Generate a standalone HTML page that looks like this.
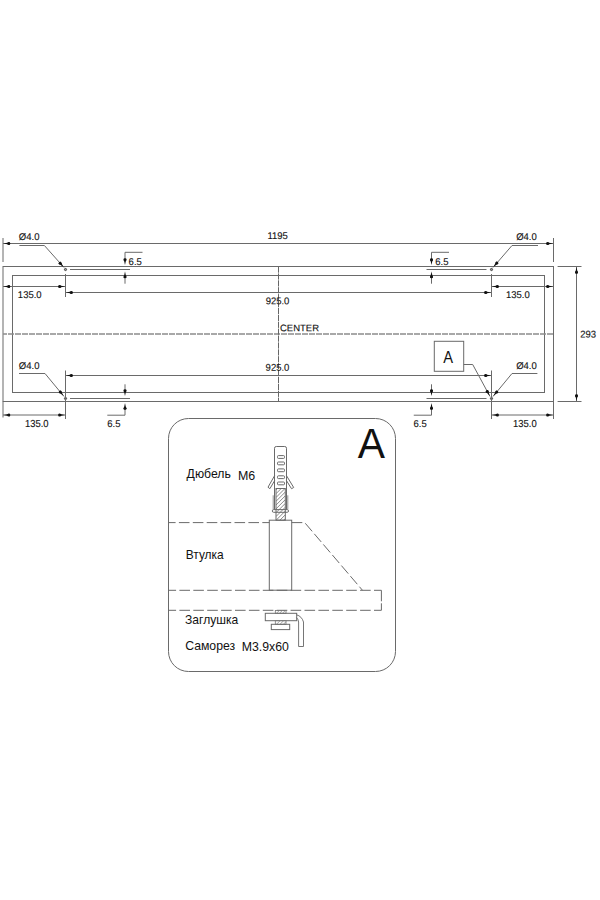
<!DOCTYPE html>
<html><head><meta charset="utf-8"><style>
html,body{margin:0;padding:0;background:#fff;}
body{width:600px;height:900px;overflow:hidden;}
svg{display:block;font-family:"Liberation Sans",sans-serif;}
</style></head><body>
<svg width="600" height="900" viewBox="0 0 600 900">
<rect x="3" y="266.5" width="550.5" height="135.0" rx="0" stroke="#6a6a6a" stroke-width="1" fill="none"/>
<rect x="12.5" y="275.5" width="532.0" height="117.0" rx="0" stroke="#6a6a6a" stroke-width="1" fill="none"/>
<line x1="3" y1="334" x2="553.5" y2="334" stroke="#8c8c8c" stroke-width="1.3" stroke-dasharray="6 1" stroke-dashoffset="2"/>
<line x1="278.5" y1="266.5" x2="278.5" y2="401.5" stroke="#666" stroke-width="1" stroke-dasharray="6.2 0.7" />
<line x1="70" y1="269.5" x2="130" y2="269.5" stroke="#6a6a6a" stroke-width="1" />
<line x1="426.5" y1="269.5" x2="486.5" y2="269.5" stroke="#6a6a6a" stroke-width="1" />
<circle cx="65.5" cy="269.5" r="1.1" stroke="#333" stroke-width="0.9" fill="#999"/>
<circle cx="491.5" cy="269.5" r="1.1" stroke="#333" stroke-width="0.9" fill="#999"/>
<line x1="70" y1="398.5" x2="130" y2="398.5" stroke="#6a6a6a" stroke-width="1" />
<line x1="426.5" y1="398.5" x2="486.5" y2="398.5" stroke="#6a6a6a" stroke-width="1" />
<circle cx="65.5" cy="398.5" r="1.1" stroke="#333" stroke-width="0.9" fill="#999"/>
<circle cx="491.5" cy="398.5" r="1.1" stroke="#333" stroke-width="0.9" fill="#999"/>
<line x1="3" y1="238" x2="3" y2="262" stroke="#6a6a6a" stroke-width="1" />
<line x1="553.5" y1="238" x2="553.5" y2="262" stroke="#6a6a6a" stroke-width="1" />
<line x1="3" y1="243.5" x2="553.5" y2="243.5" stroke="#6a6a6a" stroke-width="1" />
<polygon points="3.50,243.50 9.80,242.15 9.80,244.85" fill="#111"/>
<circle cx="8.80" cy="243.50" r="1.5" fill="#111"/>
<polygon points="553.00,243.50 546.70,244.85 546.70,242.15" fill="#111"/>
<circle cx="547.70" cy="243.50" r="1.5" fill="#111"/>
<line x1="65.5" y1="274" x2="65.5" y2="297" stroke="#6a6a6a" stroke-width="1" />
<line x1="491.5" y1="274" x2="491.5" y2="297" stroke="#6a6a6a" stroke-width="1" />
<line x1="3" y1="286.5" x2="65.5" y2="286.5" stroke="#6a6a6a" stroke-width="1" />
<polygon points="3.50,286.50 9.80,285.15 9.80,287.85" fill="#111"/>
<circle cx="8.80" cy="286.50" r="1.5" fill="#111"/>
<polygon points="65.00,286.50 58.70,287.85 58.70,285.15" fill="#111"/>
<circle cx="59.70" cy="286.50" r="1.5" fill="#111"/>
<line x1="491.5" y1="286.5" x2="553.5" y2="286.5" stroke="#6a6a6a" stroke-width="1" />
<polygon points="492.00,286.50 498.30,285.15 498.30,287.85" fill="#111"/>
<circle cx="497.30" cy="286.50" r="1.5" fill="#111"/>
<polygon points="553.00,286.50 546.70,287.85 546.70,285.15" fill="#111"/>
<circle cx="547.70" cy="286.50" r="1.5" fill="#111"/>
<line x1="65.5" y1="292.5" x2="491.5" y2="292.5" stroke="#6a6a6a" stroke-width="1" />
<polygon points="66.00,292.50 72.30,291.15 72.30,293.85" fill="#111"/>
<circle cx="71.30" cy="292.50" r="1.5" fill="#111"/>
<polygon points="491.00,292.50 484.70,293.85 484.70,291.15" fill="#111"/>
<circle cx="485.70" cy="292.50" r="1.5" fill="#111"/>
<line x1="19.4" y1="245.5" x2="44.4" y2="245.5" stroke="#6a6a6a" stroke-width="1" />
<line x1="44.4" y1="245.5" x2="64.0" y2="267.5" stroke="#6a6a6a" stroke-width="1" />
<polygon points="63.67,267.13 58.47,263.32 60.48,261.52" fill="#111"/>
<circle cx="60.14" cy="263.17" r="1.5" fill="#111"/>
<line x1="512" y1="245.5" x2="538" y2="245.5" stroke="#6a6a6a" stroke-width="1" />
<line x1="512" y1="245.5" x2="493.0" y2="267.5" stroke="#6a6a6a" stroke-width="1" />
<polygon points="493.33,267.12 496.42,261.47 498.47,263.24" fill="#111"/>
<circle cx="496.79" cy="263.11" r="1.5" fill="#111"/>
<polyline points="142.5,252.3 125,252.3 125,260" stroke="#6a6a6a" stroke-width="1" fill="none"/>
<line x1="125" y1="276" x2="125" y2="283.7" stroke="#6a6a6a" stroke-width="1" />
<polygon points="125.00,265.00 123.65,258.70 126.35,258.70" fill="#111"/>
<circle cx="125.00" cy="259.70" r="1.5" fill="#111"/>
<polygon points="125.00,271.50 126.35,277.80 123.65,277.80" fill="#111"/>
<circle cx="125.00" cy="276.80" r="1.5" fill="#111"/>
<polyline points="449.0,252.3 431.5,252.3 431.5,260" stroke="#6a6a6a" stroke-width="1" fill="none"/>
<line x1="431.5" y1="276" x2="431.5" y2="283.7" stroke="#6a6a6a" stroke-width="1" />
<polygon points="431.50,265.00 430.15,258.70 432.85,258.70" fill="#111"/>
<circle cx="431.50" cy="259.70" r="1.5" fill="#111"/>
<polygon points="431.50,271.50 432.85,277.80 430.15,277.80" fill="#111"/>
<circle cx="431.50" cy="276.80" r="1.5" fill="#111"/>
<line x1="65.5" y1="370.5" x2="65.5" y2="419" stroke="#6a6a6a" stroke-width="1" />
<line x1="491.5" y1="370.5" x2="491.5" y2="419" stroke="#6a6a6a" stroke-width="1" />
<line x1="65.5" y1="375.5" x2="491.5" y2="375.5" stroke="#6a6a6a" stroke-width="1" />
<polygon points="66.00,375.50 72.30,374.15 72.30,376.85" fill="#111"/>
<circle cx="71.30" cy="375.50" r="1.5" fill="#111"/>
<polygon points="491.00,375.50 484.70,376.85 484.70,374.15" fill="#111"/>
<circle cx="485.70" cy="375.50" r="1.5" fill="#111"/>
<line x1="19" y1="373.5" x2="45" y2="373.5" stroke="#6a6a6a" stroke-width="1" />
<line x1="45" y1="373.5" x2="64.0" y2="396.5" stroke="#6a6a6a" stroke-width="1" />
<polygon points="63.68,396.11 58.63,392.12 60.71,390.40" fill="#111"/>
<circle cx="60.31" cy="392.03" r="1.5" fill="#111"/>
<line x1="512" y1="373.5" x2="537.4" y2="373.5" stroke="#6a6a6a" stroke-width="1" />
<line x1="512" y1="373.5" x2="493.0" y2="396.5" stroke="#6a6a6a" stroke-width="1" />
<polygon points="493.32,396.11 496.29,390.40 498.37,392.12" fill="#111"/>
<circle cx="496.69" cy="392.03" r="1.5" fill="#111"/>
<rect x="434.3" y="341.3" width="29.4" height="30" rx="0" stroke="#6a6a6a" stroke-width="1" fill="none"/>
<polyline points="463.7,364.5 472.7,364.5 490.0,396.5" stroke="#6a6a6a" stroke-width="1" fill="none"/>
<polygon points="489.76,396.06 485.58,391.16 487.95,389.88" fill="#111"/>
<circle cx="487.24" cy="391.40" r="1.5" fill="#111"/>
<line x1="3" y1="401.5" x2="3" y2="417.5" stroke="#6a6a6a" stroke-width="1" />
<line x1="553.5" y1="401.5" x2="553.5" y2="419" stroke="#6a6a6a" stroke-width="1" />
<line x1="3" y1="415" x2="65.5" y2="415" stroke="#6a6a6a" stroke-width="1" />
<polygon points="3.50,415.00 9.80,413.65 9.80,416.35" fill="#111"/>
<circle cx="8.80" cy="415.00" r="1.5" fill="#111"/>
<polygon points="65.00,415.00 58.70,416.35 58.70,413.65" fill="#111"/>
<circle cx="59.70" cy="415.00" r="1.5" fill="#111"/>
<line x1="491.5" y1="415" x2="553.5" y2="415" stroke="#6a6a6a" stroke-width="1" />
<polygon points="492.00,415.00 498.30,413.65 498.30,416.35" fill="#111"/>
<circle cx="497.30" cy="415.00" r="1.5" fill="#111"/>
<polygon points="553.00,415.00 546.70,416.35 546.70,413.65" fill="#111"/>
<circle cx="547.70" cy="415.00" r="1.5" fill="#111"/>
<polyline points="107.3,415.2 125,415.2 125,407" stroke="#6a6a6a" stroke-width="1" fill="none"/>
<line x1="125" y1="384.3" x2="125" y2="392" stroke="#6a6a6a" stroke-width="1" />
<polygon points="125.00,396.00 123.65,389.70 126.35,389.70" fill="#111"/>
<circle cx="125.00" cy="390.70" r="1.5" fill="#111"/>
<polygon points="125.00,403.00 126.35,409.30 123.65,409.30" fill="#111"/>
<circle cx="125.00" cy="408.30" r="1.5" fill="#111"/>
<polyline points="413.75,415.2 431.5,415.2 431.5,407" stroke="#6a6a6a" stroke-width="1" fill="none"/>
<line x1="431.5" y1="384.3" x2="431.5" y2="392" stroke="#6a6a6a" stroke-width="1" />
<polygon points="431.50,396.00 430.15,389.70 432.85,389.70" fill="#111"/>
<circle cx="431.50" cy="390.70" r="1.5" fill="#111"/>
<polygon points="431.50,403.00 432.85,409.30 430.15,409.30" fill="#111"/>
<circle cx="431.50" cy="408.30" r="1.5" fill="#111"/>
<line x1="557.6" y1="266.5" x2="581.5" y2="266.5" stroke="#6a6a6a" stroke-width="1" />
<line x1="557.6" y1="401.5" x2="581.5" y2="401.5" stroke="#6a6a6a" stroke-width="1" />
<line x1="576.5" y1="266.5" x2="576.5" y2="401.5" stroke="#6a6a6a" stroke-width="1" />
<polygon points="576.50,267.00 577.85,273.30 575.15,273.30" fill="#111"/>
<circle cx="576.50" cy="272.30" r="1.5" fill="#111"/>
<polygon points="576.50,401.00 575.15,394.70 577.85,394.70" fill="#111"/>
<circle cx="576.50" cy="395.70" r="1.5" fill="#111"/>
<rect x="168.5" y="418.5" width="227" height="253" rx="20" stroke="#6a6a6a" stroke-width="1" fill="none"/>
<path d="M274.5,509.5 L274.5,448.3 Q274.5,446.5 276.3,446.5 L284.7,446.5 Q286.5,446.5 286.5,448.3 L286.5,509.5" stroke="#6a6a6a" fill="none" stroke-width="1"/>
<rect x="277.5" y="455.6" width="7" height="2.8" rx="0.9" stroke="#6a6a6a" stroke-width="1" fill="none"/>
<rect x="277.5" y="462.0" width="7" height="2.8" rx="0.9" stroke="#6a6a6a" stroke-width="1" fill="none"/>
<rect x="277.5" y="468.90000000000003" width="7" height="2.8" rx="0.9" stroke="#6a6a6a" stroke-width="1" fill="none"/>
<rect x="277.5" y="475.8" width="7" height="2.8" rx="0.9" stroke="#6a6a6a" stroke-width="1" fill="none"/>
<rect x="277.5" y="482.0" width="7" height="2.8" rx="0.9" stroke="#6a6a6a" stroke-width="1" fill="none"/>
<polyline points="274.7,475.5 268,487.2 269.9,488.7 274.7,480.5" stroke="#6a6a6a" stroke-width="1" fill="none"/>
<polyline points="286.4,475.5 293.7,487.5 291.5,488.7 286.4,480.5" stroke="#6a6a6a" stroke-width="1" fill="none"/>
<line x1="273.2" y1="495.3" x2="273.2" y2="509.3" stroke="#888" stroke-width="0.9" />
<line x1="287.8" y1="495.3" x2="287.8" y2="509.3" stroke="#888" stroke-width="0.9" />
<defs><clipPath id="hc"><rect x="276" y="488.5" width="9.3" height="31.7"/></clipPath><clipPath id="hc2"><rect x="275.3" y="610.5" width="10.7" height="14"/></clipPath></defs>
<rect x="276" y="488.5" width="9.3" height="31.7" rx="0" stroke="#6a6a6a" stroke-width="1" fill="none"/>
<path d="M276,482.30 L285.3,473.00 M276,486.10 L285.3,476.80 M276,489.90 L285.3,480.60 M276,493.70 L285.3,484.40 M276,497.50 L285.3,488.20 M276,501.30 L285.3,492.00 M276,505.10 L285.3,495.80 M276,508.90 L285.3,499.60 M276,512.70 L285.3,503.40 M276,516.50 L285.3,507.20 M276,520.30 L285.3,511.00 M276,524.10 L285.3,514.80 M276,527.90 L285.3,518.60 M276,531.70 L285.3,522.40 M276,535.50 L285.3,526.20 M276,539.30 L285.3,530.00 M276,543.10 L285.3,533.80 M276,546.90 L285.3,537.60 M276,550.70 L285.3,541.40 M276,554.50 L285.3,545.20" stroke="#6a6a6a" stroke-width="0.8" clip-path="url(#hc)"/>
<rect x="272.3" y="509.6" width="16.2" height="2.7" rx="1.3" stroke="#6a6a6a" stroke-width="1" fill="none"/>
<rect x="269.3" y="520.2" width="22.4" height="70" rx="0" stroke="#6a6a6a" stroke-width="1" fill="none"/>
<line x1="168.5" y1="522.6" x2="269.3" y2="522.6" stroke="#6a6a6a" stroke-width="1" stroke-dasharray="10.6 3.3" stroke-dashoffset="3.5"/>
<polyline points="291.7,522.6 304.7,522.6 362.5,590.3" stroke="#6a6a6a" stroke-width="1" fill="none" stroke-dasharray="10.6 3.3"/>
<line x1="168.5" y1="590.3" x2="381.4" y2="590.3" stroke="#6a6a6a" stroke-width="1" stroke-dasharray="10.6 3.3" stroke-dashoffset="3"/>
<line x1="168.5" y1="610.3" x2="381.4" y2="610.3" stroke="#6a6a6a" stroke-width="1" stroke-dasharray="10.6 3.3" stroke-dashoffset="3"/>
<line x1="381.4" y1="590.3" x2="381.4" y2="610.3" stroke="#6a6a6a" stroke-width="1" stroke-dasharray="11 2" />
<rect x="275.3" y="610.5" width="10.7" height="2.8" rx="0" stroke="#777" stroke-width="0.8" fill="none"/>
<rect x="265.3" y="613.3" width="31.4" height="7.4" rx="0" stroke="#6a6a6a" stroke-width="1" fill="none"/>
<rect x="275.3" y="620.7" width="10.7" height="3.6" rx="0" stroke="#777" stroke-width="0.8" fill="none"/>
<rect x="271.3" y="624.3" width="18.4" height="5.3" rx="0" stroke="#6a6a6a" stroke-width="1" fill="none"/>
<path d="M276.5,613.3 L279.3,610.5 M279.5,613.3 L282.3,610.5 M282.5,613.3 L285.3,610.5 M276.5,624.3 L280.1,620.7 M280,624.3 L283.6,620.7 M283.4,624.3 L286,621.7" stroke="#888" stroke-width="0.8"/>
<path d="M296.5,614.8 Q301.8,616.2 303.5,622 L303.5,646.5 L298.6,646.5 L298.6,622 Q298.2,619 296.5,617.6" stroke="#666" fill="none" stroke-width="0.9"/>
<text font-size="10" fill="#111" stroke="#111" stroke-width="0.12" vector-effect="non-scaling-stroke" transform="matrix(0.9500 0.0005 -0.0005 0.9500 279.968 331.266)">CENTER</text>
<text font-size="10" fill="#111" stroke="#111" stroke-width="0.12" vector-effect="non-scaling-stroke" transform="matrix(0.9500 0.0005 -0.0005 0.9800 267.470 239.000)">1195</text>
<text font-size="10" fill="#111" stroke="#111" stroke-width="0.12" vector-effect="non-scaling-stroke" transform="matrix(0.9500 0.0005 -0.0005 0.9800 17.859 298.000)">135.0</text>
<text font-size="10" fill="#111" stroke="#111" stroke-width="0.12" vector-effect="non-scaling-stroke" transform="matrix(0.9500 0.0005 -0.0005 0.9800 506.002 298.000)">135.0</text>
<text font-size="10" fill="#111" stroke="#111" stroke-width="0.12" vector-effect="non-scaling-stroke" transform="matrix(0.9500 0.0005 -0.0005 0.9800 265.625 304.192)">925.0</text>
<text font-size="10" fill="#111" stroke="#111" stroke-width="0.12" vector-effect="non-scaling-stroke" transform="matrix(0.9500 0.0005 -0.0005 0.9800 18.835 240.000)">Ø4.0</text>
<text font-size="10" fill="#111" stroke="#111" stroke-width="0.12" vector-effect="non-scaling-stroke" transform="matrix(0.9500 0.0005 -0.0005 0.9800 516.210 240.000)">Ø4.0</text>
<text font-size="10" fill="#111" stroke="#111" stroke-width="0.12" vector-effect="non-scaling-stroke" transform="matrix(0.9500 0.0005 -0.0005 0.9800 128.622 265.000)">6.5</text>
<text font-size="10" fill="#111" stroke="#111" stroke-width="0.12" vector-effect="non-scaling-stroke" transform="matrix(0.9500 0.0005 -0.0005 0.9800 435.220 265.000)">6.5</text>
<text font-size="10" fill="#111" stroke="#111" stroke-width="0.12" vector-effect="non-scaling-stroke" transform="matrix(0.9500 0.0005 -0.0005 0.9800 265.621 370.812)">925.0</text>
<text font-size="10" fill="#111" stroke="#111" stroke-width="0.12" vector-effect="non-scaling-stroke" transform="matrix(0.9500 0.0005 -0.0005 0.9800 18.835 369.000)">Ø4.0</text>
<text font-size="10" fill="#111" stroke="#111" stroke-width="0.12" vector-effect="non-scaling-stroke" transform="matrix(0.9500 0.0005 -0.0005 0.9800 516.210 369.000)">Ø4.0</text>
<text font-size="10" fill="#111" stroke="#111" stroke-width="0" vector-effect="non-scaling-stroke" transform="matrix(1.4683 0.0005 -0.0005 1.6266 443.144 362.613)">A</text>
<text font-size="10" fill="#111" stroke="#111" stroke-width="0.12" vector-effect="non-scaling-stroke" transform="matrix(0.9417 0.0005 -0.0005 1.0172 24.921 427.000)">135.0</text>
<text font-size="10" fill="#111" stroke="#111" stroke-width="0.12" vector-effect="non-scaling-stroke" transform="matrix(0.9459 0.0005 -0.0005 1.0172 513.030 427.000)">135.0</text>
<text font-size="10" fill="#111" stroke="#111" stroke-width="0.12" vector-effect="non-scaling-stroke" transform="matrix(0.9500 0.0005 -0.0005 0.9800 107.217 427.000)">6.5</text>
<text font-size="10" fill="#111" stroke="#111" stroke-width="0.12" vector-effect="non-scaling-stroke" transform="matrix(0.9500 0.0005 -0.0005 0.9800 413.528 427.000)">6.5</text>
<text font-size="10" fill="#111" stroke="#111" stroke-width="0.12" vector-effect="non-scaling-stroke" transform="matrix(0.9500 0.0005 -0.0005 0.9800 580.278 337.564)">293</text>
<text font-size="10" fill="#111" stroke="#111" stroke-width="0" vector-effect="non-scaling-stroke" transform="matrix(4.0869 0.0005 -0.0005 4.2457 357.833 458.275)">A</text>
<text font-size="10" fill="#111" stroke="#111" stroke-width="0" vector-effect="non-scaling-stroke" transform="matrix(1.2254 0.0005 -0.0005 1.2150 186.594 478.400)">Дюбель</text>
<text font-size="10" fill="#111" stroke="#111" stroke-width="0" vector-effect="non-scaling-stroke" transform="matrix(1.2442 0.0005 -0.0005 1.2150 237.887 479.800)">M6</text>
<text font-size="10" fill="#111" stroke="#111" stroke-width="0" vector-effect="non-scaling-stroke" transform="matrix(1.1947 0.0005 -0.0005 1.2155 185.719 559.369)">Втулка</text>
<text font-size="10" fill="#111" stroke="#111" stroke-width="0" vector-effect="non-scaling-stroke" transform="matrix(1.2083 0.0005 -0.0005 1.2201 185.067 624.074)">Заглушка</text>
<text font-size="10" fill="#111" stroke="#111" stroke-width="0" vector-effect="non-scaling-stroke" transform="matrix(1.2248 0.0005 -0.0005 1.2146 185.175 650.071)">Саморез</text>
<text font-size="10" fill="#111" stroke="#111" stroke-width="0" vector-effect="non-scaling-stroke" transform="matrix(1.2316 0.0005 -0.0005 1.2150 241.761 650.815)">M3.9x60</text>
</svg>
</body></html>
